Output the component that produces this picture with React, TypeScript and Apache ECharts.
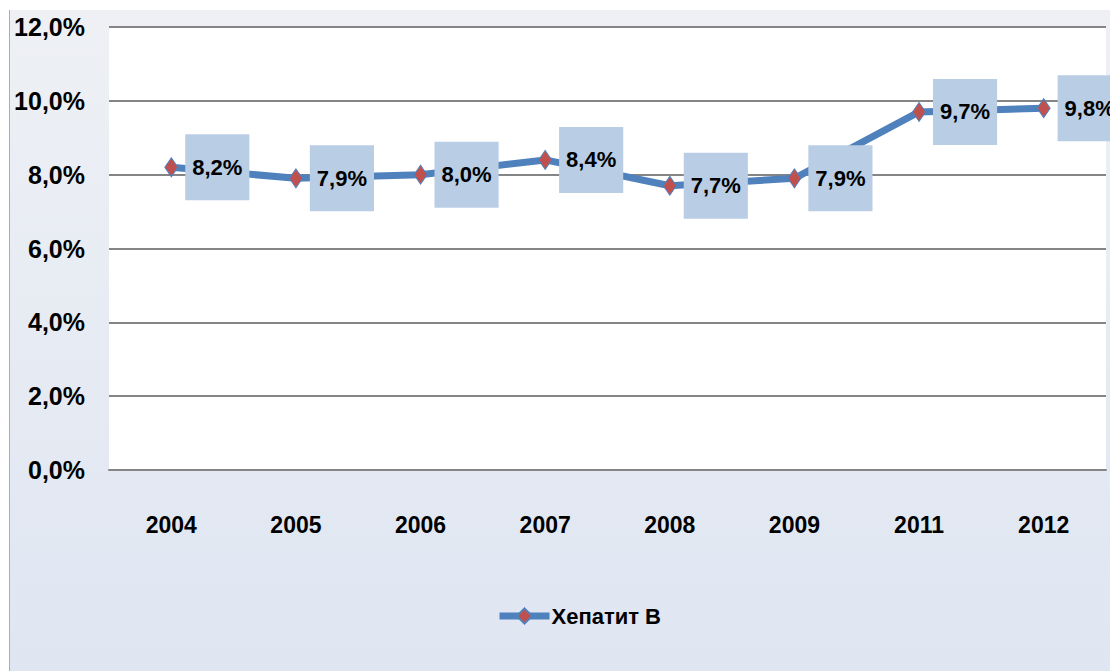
import React, { useEffect, useRef } from "react";
import * as echarts from "echarts";

const categories = ["2004", "2005", "2006", "2007", "2008", "2009", "2011", "2012"];
const values = [8.2, 7.9, 8.0, 8.4, 7.7, 7.9, 9.7, 9.8];
const seriesName = "Хепатит В";
const yMin = 0;
const yMax = 12;
const yInterval = 2;

const FONT = '"Liberation Sans", Arial, sans-serif';
const fmt = (v: number) => v.toFixed(1).replace(".", ",") + "%";

export default function App() {
  const ref = useRef<HTMLDivElement>(null);
  useEffect(() => {
    if (!ref.current) return;
    const chart = echarts.init(ref.current, null, { renderer: "svg" });
    chart.setOption({
      animation: false,
      backgroundColor: "#ffffff",
      graphic: [
        {
          type: "rect",
          z: -10,
          shape: { x: 10, y: 10, width: 1100, height: 661 },
          style: {
            fill: new echarts.graphic.LinearGradient(0, 0, 0, 1, [
              { offset: 0, color: "#eef0f4" },
              { offset: 1, color: "#dfe6f2" },
            ]),
          },
        },
        {
          type: "line",
          z: -9,
          shape: { x1: 9.5, y1: 10, x2: 9.5, y2: 671 },
          style: { stroke: "#a8acb4", lineWidth: 1 },
        },
      ],
      grid: {
        left: 109,
        right: 4,
        top: 27,
        bottom: 201,
        show: true,
        backgroundColor: "#ffffff",
        borderWidth: 0,
      },
      legend: {
        left: 496,
        top: 605,
        padding: 0,
        itemWidth: 50,
        itemHeight: 19,
        itemGap: 10,
        lineStyle: { width: 7 },
        textStyle: { fontFamily: FONT, fontSize: 22, fontWeight: "bold", color: "#000", padding: [0, 0, 0, -3] },
        data: [seriesName],
      },
      xAxis: {
        type: "category",
        data: categories,
        boundaryGap: true,
        axisLine: { show: true, lineStyle: { color: "#858585", width: 2 } },
        axisTick: { show: false },
        axisLabel: {
          margin: 43,
          fontFamily: FONT,
          fontSize: 23,
          fontWeight: "bold",
          color: "#000",
        },
      },
      yAxis: {
        type: "value",
        min: yMin,
        max: yMax,
        interval: yInterval,
        axisLine: { show: false },
        axisTick: { show: false },
        splitLine: { show: true, lineStyle: { color: "#858585", width: 2 } },
        axisLabel: {
          margin: 24,
          fontFamily: FONT,
          fontSize: 25,
          fontWeight: "bold",
          color: "#000",
          formatter: (v: number) => fmt(v),
        },
      },
      series: [
        {
          name: seriesName,
          type: "line",
          data: values,
          symbol: "diamond",
          symbolSize: [13, 19],
          lineStyle: { color: "#4f81bd", width: 7 },
          itemStyle: { color: "#c0504d", borderColor: "#4f81bd", borderWidth: 1 },
          label: {
            show: true,
            position: "right",
            distance: 7,
            formatter: (p: any) => fmt(p.value),
            fontFamily: FONT,
            fontSize: 22,
            lineHeight: 26,
            fontWeight: "bold",
            color: "#000",
            backgroundColor: "#b9cde5",
            padding: [20, 7, 20, 7],
          },
        },
      ],
    });
    return () => chart.dispose();
  }, []);
  return (
    <div
      ref={ref}
      style={{ position: "fixed", left: 0, top: 0, width: 1110, height: 671 }}
    />
  );
}
